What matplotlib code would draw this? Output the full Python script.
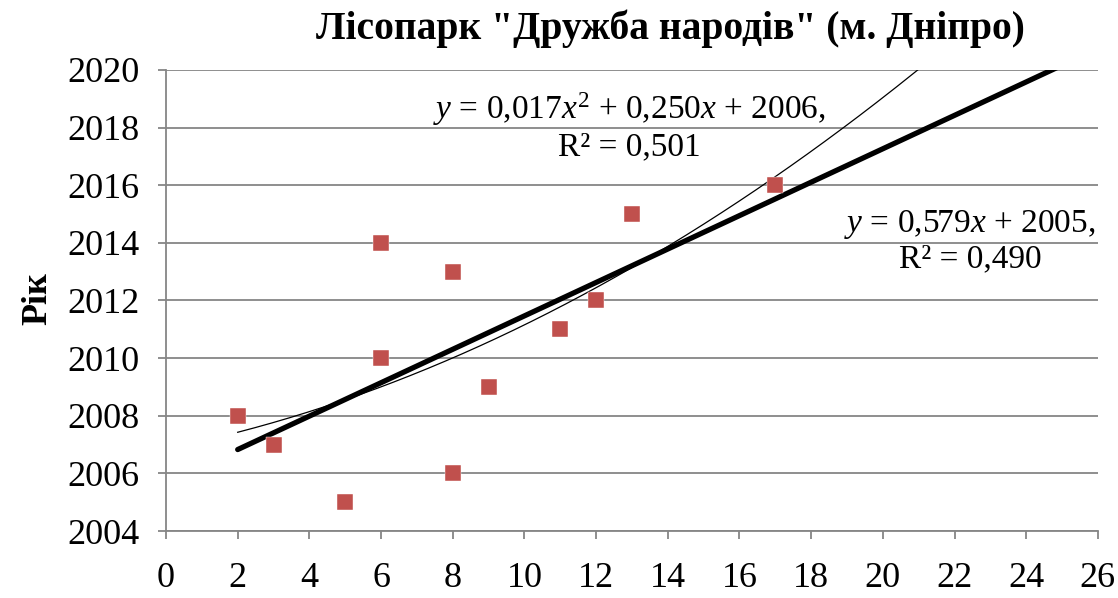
import numpy as np
import matplotlib.pyplot as plt

plt.rcParams['font.family'] = ['Liberation Serif', 'DejaVu Serif']
plt.rcParams['mathtext.fontset'] = 'custom'
plt.rcParams['mathtext.rm'] = 'Liberation Serif'
plt.rcParams['mathtext.it'] = 'Liberation Serif:italic'

# дані
x = np.array([2, 3, 5, 6, 6, 8, 8, 9, 11, 12, 13, 17])
year = np.array([2008, 2007, 2005, 2014, 2010, 2013, 2006, 2009, 2011, 2012, 2015, 2016])
title = 'Лісопарк "Дружба народів" (м. Дніпро)'
lin_label = '$y$ = 0,579$x$ + 2005,\nR² = 0,490'
quad_label = '$y$ = 0,017$x^2$ + 0,250$x$ + 2006,\nR² = 0,501'

# лінії тренду
p1 = np.polyfit(x, year, 1)
p2 = np.polyfit(x, year, 2)
xs = np.linspace(x.min(), 26, 300)

fig = plt.figure(figsize=(11.18, 5.98), dpi=100)
ax = fig.add_axes([0.1485, 0.112, 0.8335, 0.771])

ax.plot(xs, np.polyval(p2, xs), color='black', lw=0.9, zorder=3)
ax.plot(xs, np.polyval(p1, xs), color='black', lw=3.8, solid_capstyle='round', zorder=4)
ax.plot(x, year, 's', color='#C0504D', markersize=11.5, markeredgecolor='white',
        markeredgewidth=0.3, zorder=5, clip_on=False)

ax.set_xlim(0, 26)
ax.set_ylim(2004, 2020)
ax.set_xticks(np.arange(0, 27, 2))
ax.set_yticks(np.arange(2004, 2021, 2))
ax.grid(axis='y', color='#868686', lw=1.3)
ax.set_axisbelow(True)
for s in ['top', 'right']:
    ax.spines[s].set_visible(False)
for s in ['left', 'bottom']:
    ax.spines[s].set_color('#868686')
    ax.spines[s].set_linewidth(1.3)
ax.tick_params(axis='both', colors='#868686', width=1.3, length=6, labelsize=26, labelcolor='black')
ax.tick_params(axis='x', pad=16)
ax.tick_params(axis='y', pad=13)

ax.text(12.94, 2018.05, quad_label, fontsize=24, ha='center', va='center', linespacing=1.15)
ax.text(22.43, 2014.06, lin_label, fontsize=24, ha='center', va='center', linespacing=1.15)

fig.text(0.6, 0.952, title, fontsize=28.5, fontweight='bold', ha='center', va='center')
fig.text(0.034, 0.5, 'Рік', fontsize=26, fontweight='bold', rotation=90, ha='center', va='center')

fig.savefig('out.png', dpi=100)
